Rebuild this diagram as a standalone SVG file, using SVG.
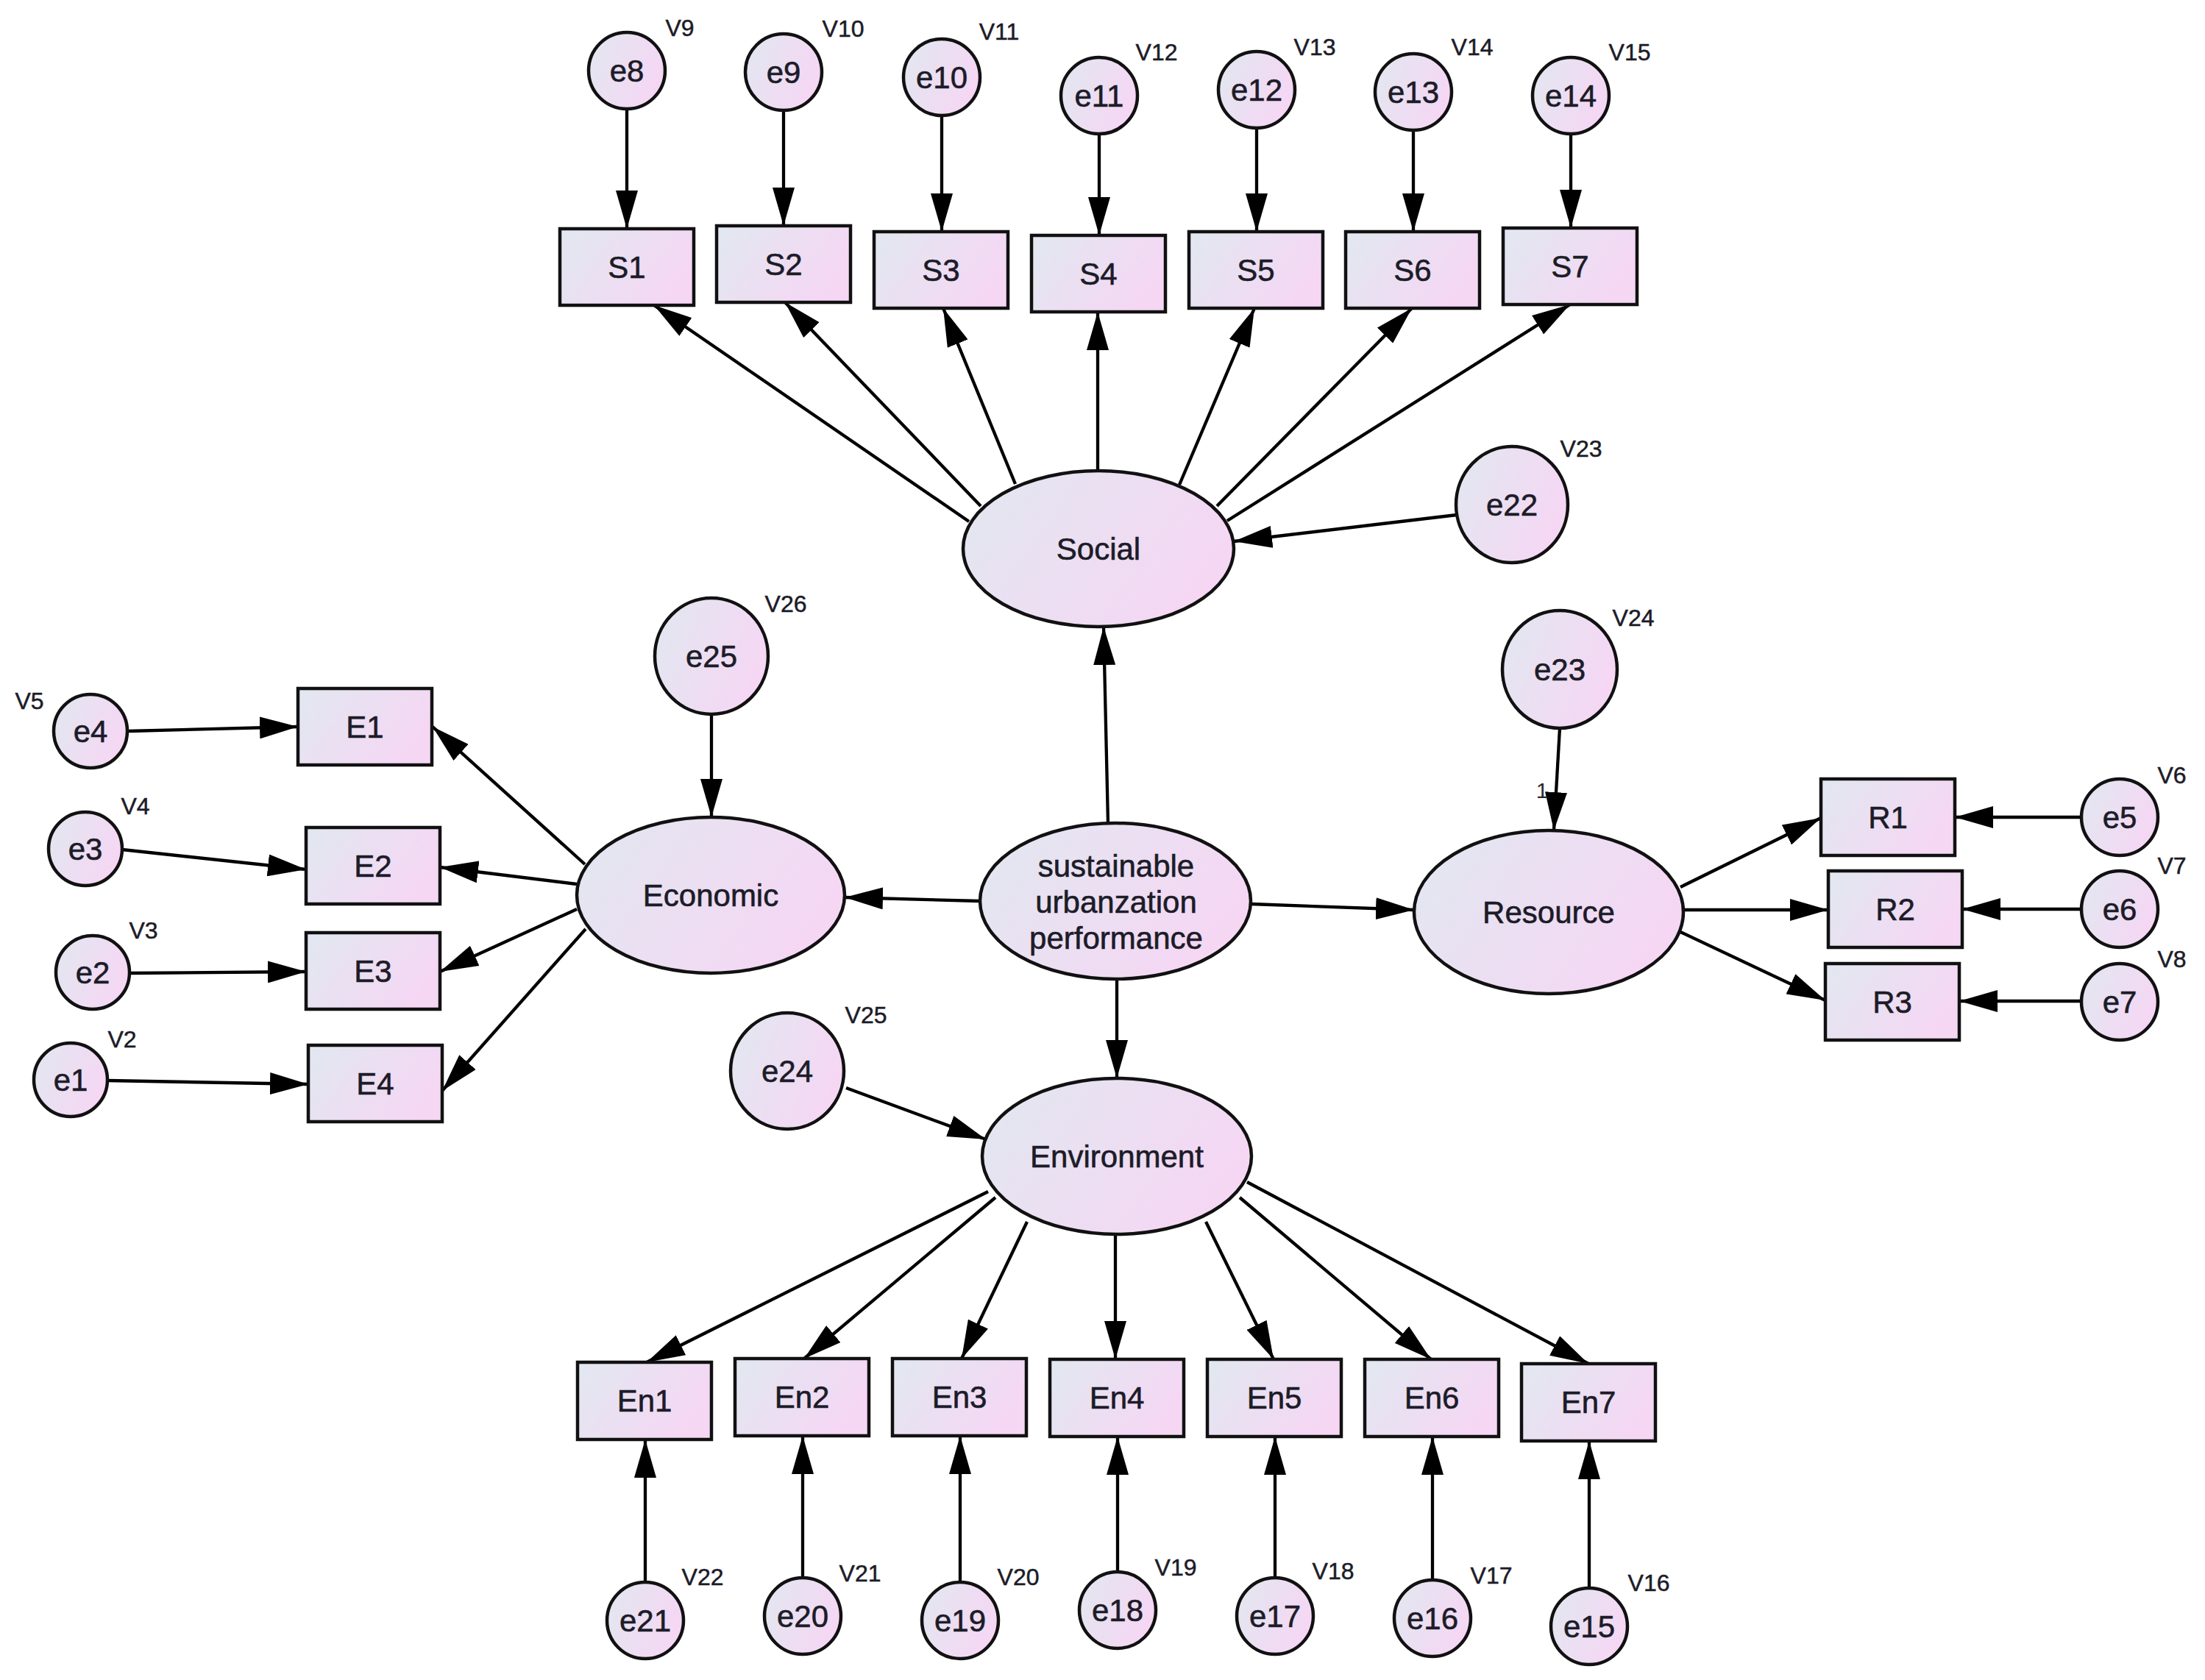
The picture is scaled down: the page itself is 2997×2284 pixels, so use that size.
<svg xmlns="http://www.w3.org/2000/svg" width="2997" height="2284" viewBox="0 0 2997 2284">
<defs>
<linearGradient id="fillg" x1="0" y1="0" x2="1" y2="0.4">
<stop offset="0" stop-color="#e1e8f0"/>
<stop offset="1" stop-color="#f5d7f4"/>
</linearGradient>
<marker id="arr" markerUnits="userSpaceOnUse" markerWidth="52" markerHeight="30" refX="52" refY="15" orient="auto" viewBox="0 0 52 30">
<path d="M0,0 L52,15 L0,30 z" fill="#000"/>
</marker>
</defs>
<style>
.n{fill:url(#fillg);stroke:#111;stroke-width:4.5}
.t{font-family:"Liberation Sans",Arial,sans-serif;font-size:42px;fill:#1c1c28;text-anchor:middle;stroke:#1c1c28;stroke-width:0.6}
.v{font-family:"Liberation Sans",Arial,sans-serif;font-size:32px;fill:#1c1c28;text-anchor:middle;stroke:#1c1c28;stroke-width:0.5}
.c line{stroke:#000;stroke-width:4.3;marker-end:url(#arr)}
</style>
<rect width="2997" height="2284" fill="#fff"/>

<g id="connectors" class="c">
<line x1="852" y1="148" x2="852" y2="311"/>
<line x1="1065" y1="150" x2="1065" y2="307"/>
<line x1="1280" y1="157" x2="1280" y2="315"/>
<line x1="1494" y1="182" x2="1494" y2="320"/>
<line x1="1708" y1="174" x2="1708" y2="315"/>
<line x1="1921" y1="177" x2="1921" y2="315"/>
<line x1="2135" y1="182" x2="2135" y2="310"/>
<line x1="1317" y1="709" x2="889" y2="415"/>
<line x1="1333" y1="688" x2="1067" y2="411"/>
<line x1="1380" y1="658" x2="1282" y2="419"/>
<line x1="1492" y1="640" x2="1492" y2="424"/>
<line x1="1603" y1="659" x2="1705" y2="419"/>
<line x1="1654" y1="688" x2="1919" y2="419"/>
<line x1="1668" y1="708" x2="2134" y2="414"/>
<line x1="1980" y1="700" x2="1677" y2="736"/>
<line x1="1506" y1="1120" x2="1500" y2="852"/>
<line x1="1332" y1="1225" x2="1148" y2="1220"/>
<line x1="1700" y1="1229" x2="1922" y2="1237"/>
<line x1="1518" y1="1331" x2="1518" y2="1466"/>
<line x1="967" y1="971" x2="967" y2="1111"/>
<line x1="795" y1="1175" x2="588" y2="988"/>
<line x1="784" y1="1202" x2="598" y2="1179"/>
<line x1="784" y1="1236" x2="598" y2="1321"/>
<line x1="796" y1="1263" x2="601" y2="1483"/>
<line x1="173" y1="994" x2="405" y2="988"/>
<line x1="166" y1="1155" x2="416" y2="1182"/>
<line x1="176" y1="1323" x2="416" y2="1321"/>
<line x1="146" y1="1469" x2="419" y2="1474"/>
<line x1="2120" y1="990" x2="2112" y2="1129"/>
<line x1="2284" y1="1206" x2="2475" y2="1112"/>
<line x1="2288" y1="1237" x2="2485" y2="1237"/>
<line x1="2284" y1="1267" x2="2481" y2="1360"/>
<line x1="2829" y1="1111" x2="2657" y2="1111"/>
<line x1="2829" y1="1236" x2="2667" y2="1236"/>
<line x1="2829" y1="1361" x2="2663" y2="1361"/>
<line x1="1150" y1="1479" x2="1340" y2="1549"/>
<line x1="1343" y1="1620" x2="879" y2="1852"/>
<line x1="1353" y1="1628" x2="1093" y2="1847"/>
<line x1="1396" y1="1661" x2="1307" y2="1847"/>
<line x1="1516" y1="1678" x2="1516" y2="1848"/>
<line x1="1639" y1="1661" x2="1731" y2="1848"/>
<line x1="1685" y1="1628" x2="1945" y2="1848"/>
<line x1="1695" y1="1607" x2="2159" y2="1854"/>
<line x1="877" y1="2151" x2="877" y2="1957"/>
<line x1="1091" y1="2145" x2="1091" y2="1952"/>
<line x1="1305" y1="2151" x2="1305" y2="1952"/>
<line x1="1519" y1="2137" x2="1519" y2="1953"/>
<line x1="1733" y1="2145" x2="1733" y2="1953"/>
<line x1="1947" y1="2148" x2="1947" y2="1953"/>
<line x1="2160" y1="2159" x2="2160" y2="1959"/>
</g>

<g id="e8"><circle class="n" cx="852" cy="96" r="52"/><text class="t" x="852" y="111">e8</text><text class="v" x="924" y="49">V9</text></g>
<g id="e9"><circle class="n" cx="1065" cy="98" r="52"/><text class="t" x="1065" y="113">e9</text><text class="v" x="1146" y="50">V10</text></g>
<g id="e10"><circle class="n" cx="1280" cy="105" r="52"/><text class="t" x="1280" y="120">e10</text><text class="v" x="1358" y="54">V11</text></g>
<g id="e11"><circle class="n" cx="1494" cy="130" r="52"/><text class="t" x="1494" y="145">e11</text><text class="v" x="1572" y="82">V12</text></g>
<g id="e12"><circle class="n" cx="1708" cy="122" r="52"/><text class="t" x="1708" y="137">e12</text><text class="v" x="1787" y="75">V13</text></g>
<g id="e13"><circle class="n" cx="1921" cy="125" r="52"/><text class="t" x="1921" y="140">e13</text><text class="v" x="2001" y="75">V14</text></g>
<g id="e14"><circle class="n" cx="2135" cy="130" r="52"/><text class="t" x="2135" y="145">e14</text><text class="v" x="2215" y="82">V15</text></g>

<g id="S1"><rect class="n" x="761" y="311" width="182" height="104"/><text class="t" x="852" y="378">S1</text></g>
<g id="S2"><rect class="n" x="974" y="307" width="182" height="104"/><text class="t" x="1065" y="374">S2</text></g>
<g id="S3"><rect class="n" x="1188" y="315" width="182" height="104"/><text class="t" x="1279" y="382">S3</text></g>
<g id="S4"><rect class="n" x="1402" y="320" width="182" height="104"/><text class="t" x="1493" y="387">S4</text></g>
<g id="S5"><rect class="n" x="1616" y="315" width="182" height="104"/><text class="t" x="1707" y="382">S5</text></g>
<g id="S6"><rect class="n" x="1829" y="315" width="182" height="104"/><text class="t" x="1920" y="382">S6</text></g>
<g id="S7"><rect class="n" x="2043" y="310" width="182" height="104"/><text class="t" x="2134" y="377">S7</text></g>

<g id="Social"><ellipse class="n" cx="1493" cy="746" rx="184" ry="106"/><text class="t" x="1493" y="761">Social</text></g>
<g id="e22"><ellipse class="n" cx="2055" cy="686" rx="76" ry="79"/><text class="t" x="2055" y="701">e22</text><text class="v" x="2149" y="621">V23</text></g>

<g id="sustainable"><ellipse class="n" cx="1516" cy="1225" rx="184" ry="106"/><text class="t" x="1517" y="1192">sustainable</text><text class="t" x="1517" y="1241">urbanzation</text><text class="t" x="1517" y="1290">performance</text></g>

<g id="e25"><ellipse class="n" cx="967" cy="892" rx="77" ry="79"/><text class="t" x="967" y="907">e25</text><text class="v" x="1068" y="832">V26</text></g>
<g id="Economic"><ellipse class="n" cx="966" cy="1217" rx="182" ry="106"/><text class="t" x="966" y="1232">Economic</text></g>
<g id="E1"><rect class="n" x="405" y="936" width="182" height="104"/><text class="t" x="496" y="1003">E1</text></g>
<g id="E2"><rect class="n" x="416" y="1125" width="182" height="104"/><text class="t" x="507" y="1192">E2</text></g>
<g id="E3"><rect class="n" x="416" y="1268" width="182" height="104"/><text class="t" x="507" y="1335">E3</text></g>
<g id="E4"><rect class="n" x="419" y="1421" width="182" height="104"/><text class="t" x="510" y="1488">E4</text></g>
<g id="e4"><circle class="n" cx="123" cy="994" r="50"/><text class="t" x="123" y="1009">e4</text><text class="v" x="40" y="964">V5</text></g>
<g id="e3"><circle class="n" cx="116" cy="1154" r="50"/><text class="t" x="116" y="1169">e3</text><text class="v" x="184" y="1107">V4</text></g>
<g id="e2"><circle class="n" cx="126" cy="1322" r="50"/><text class="t" x="126" y="1337">e2</text><text class="v" x="195" y="1276">V3</text></g>
<g id="e1"><circle class="n" cx="96" cy="1468" r="50"/><text class="t" x="96" y="1483">e1</text><text class="v" x="166" y="1424">V2</text></g>

<g id="e23"><ellipse class="n" cx="2120" cy="910" rx="78" ry="80"/><text class="t" x="2120" y="925">e23</text><text class="v" x="2220" y="851">V24</text></g>
<text x="2096" y="1085" font-family="Liberation Sans, Arial, sans-serif" font-size="30" fill="#2a2a2a" text-anchor="middle">1</text>
<g id="Resource"><ellipse class="n" cx="2105" cy="1240" rx="183" ry="111"/><text class="t" x="2105" y="1255">Resource</text></g>
<g id="R1"><rect class="n" x="2475" y="1059" width="182" height="104"/><text class="t" x="2566" y="1126">R1</text></g>
<g id="R2"><rect class="n" x="2485" y="1184" width="182" height="104"/><text class="t" x="2576" y="1251">R2</text></g>
<g id="R3"><rect class="n" x="2481" y="1310" width="182" height="104"/><text class="t" x="2572" y="1377">R3</text></g>
<g id="e5"><circle class="n" cx="2881" cy="1111" r="52"/><text class="t" x="2881" y="1126">e5</text><text class="v" x="2952" y="1065">V6</text></g>
<g id="e6"><circle class="n" cx="2881" cy="1236" r="52"/><text class="t" x="2881" y="1251">e6</text><text class="v" x="2952" y="1188">V7</text></g>
<g id="e7"><circle class="n" cx="2881" cy="1362" r="52"/><text class="t" x="2881" y="1377">e7</text><text class="v" x="2952" y="1315">V8</text></g>

<g id="e24"><ellipse class="n" cx="1070" cy="1456" rx="77" ry="79"/><text class="t" x="1070" y="1471">e24</text><text class="v" x="1177" y="1391">V25</text></g>
<g id="Environment"><ellipse class="n" cx="1518" cy="1572" rx="183" ry="106"/><text class="t" x="1518" y="1587">Environment</text></g>
<g id="En1"><rect class="n" x="785" y="1852" width="182" height="105"/><text class="t" x="876" y="1919">En1</text></g>
<g id="En2"><rect class="n" x="999" y="1847" width="182" height="105"/><text class="t" x="1090" y="1914">En2</text></g>
<g id="En3"><rect class="n" x="1213" y="1847" width="182" height="105"/><text class="t" x="1304" y="1914">En3</text></g>
<g id="En4"><rect class="n" x="1427" y="1848" width="182" height="105"/><text class="t" x="1518" y="1915">En4</text></g>
<g id="En5"><rect class="n" x="1641" y="1848" width="182" height="105"/><text class="t" x="1732" y="1915">En5</text></g>
<g id="En6"><rect class="n" x="1855" y="1848" width="182" height="105"/><text class="t" x="1946" y="1915">En6</text></g>
<g id="En7"><rect class="n" x="2068" y="1854" width="182" height="105"/><text class="t" x="2159" y="1921">En7</text></g>
<g id="e21"><circle class="n" cx="877" cy="2203" r="52"/><text class="t" x="877" y="2218">e21</text><text class="v" x="955" y="2155">V22</text></g>
<g id="e20"><circle class="n" cx="1091" cy="2197" r="52"/><text class="t" x="1091" y="2212">e20</text><text class="v" x="1169" y="2150">V21</text></g>
<g id="e19"><circle class="n" cx="1305" cy="2203" r="52"/><text class="t" x="1305" y="2218">e19</text><text class="v" x="1384" y="2155">V20</text></g>
<g id="e18"><circle class="n" cx="1519" cy="2189" r="52"/><text class="t" x="1519" y="2204">e18</text><text class="v" x="1598" y="2142">V19</text></g>
<g id="e17"><circle class="n" cx="1733" cy="2197" r="52"/><text class="t" x="1733" y="2212">e17</text><text class="v" x="1812" y="2147">V18</text></g>
<g id="e16"><circle class="n" cx="1947" cy="2200" r="52"/><text class="t" x="1947" y="2215">e16</text><text class="v" x="2027" y="2153">V17</text></g>
<g id="e15"><circle class="n" cx="2160" cy="2211" r="52"/><text class="t" x="2160" y="2226">e15</text><text class="v" x="2241" y="2163">V16</text></g>
</svg>
